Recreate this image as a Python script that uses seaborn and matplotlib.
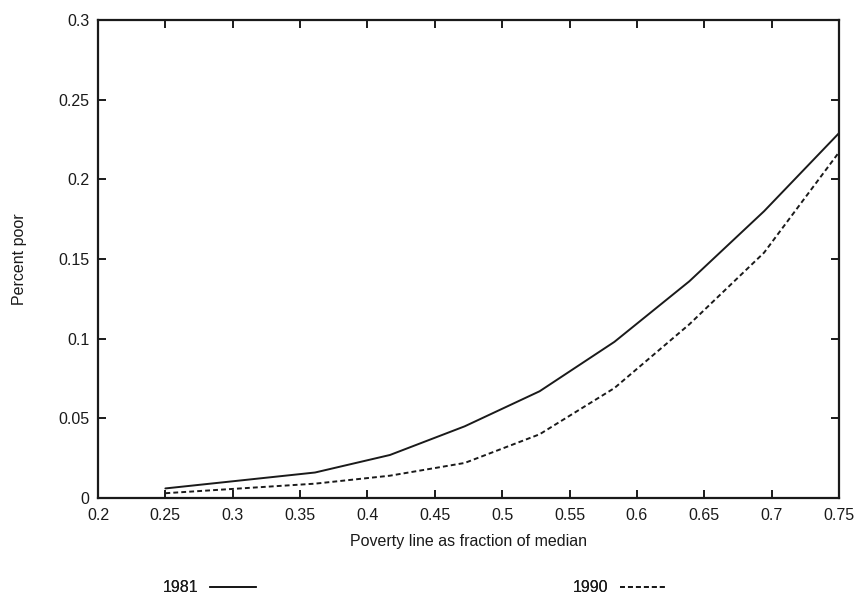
import numpy as np
import pandas as pd
import matplotlib
matplotlib.use("Agg")
import matplotlib.pyplot as plt
import seaborn as sns

# Data
poverty_line = [0.25, 0.3056, 0.3611, 0.4167, 0.4722, 0.5278, 0.5833, 0.6389, 0.6944, 0.75]
poor_1981 = [0.006, 0.011, 0.016, 0.027, 0.045, 0.067, 0.098, 0.136, 0.180, 0.229]
poor_1990 = [0.003, 0.006, 0.009, 0.014, 0.022, 0.040, 0.069, 0.109, 0.154, 0.217]
years = ["1981", "1990"]
x_ticks = [0.2, 0.25, 0.3, 0.35, 0.4, 0.45, 0.5, 0.55, 0.6, 0.65, 0.7, 0.75]
y_ticks = [0, 0.05, 0.1, 0.15, 0.2, 0.25, 0.3]
x_tick_labels = ["0.2", "0.25", "0.3", "0.35", "0.4", "0.45", "0.5", "0.55", "0.6", "0.65", "0.7", "0.75"]
y_tick_labels = ["0", "0.05", "0.1", "0.15", "0.2", "0.25", "0.3"]

df = pd.DataFrame({
    "x": poverty_line * 2,
    "y": poor_1981 + poor_1990,
    "year": [years[0]] * len(poverty_line) + [years[1]] * len(poverty_line),
})

sns.set_theme(style="ticks")
plt.rcParams["font.family"] = ["Liberation Sans", "DejaVu Sans"]

fig = plt.figure(figsize=(8.57, 5.97), dpi=100)
ax = fig.add_axes([98 / 857, 1 - 498 / 597, (839 - 98) / 857, (498 - 20) / 597])

sns.lineplot(data=df, x="x", y="y", hue="year", style="year",
             palette={"1981": "#1a1a1a", "1990": "#1a1a1a"},
             dashes={"1981": "", "1990": (2.5, 1.6)},
             linewidth=1.4, legend=False, ax=ax)

ax.set_xlim(0.2, 0.75)
ax.set_ylim(0, 0.3)
ax.set_xticks(x_ticks)
ax.set_xticklabels(x_tick_labels)
ax.set_yticks(y_ticks)
ax.set_yticklabels(y_tick_labels)
ax.tick_params(direction="in", length=6, width=1.4, top=True, right=True,
               labelsize=11.5, colors="#1a1a1a", pad=6)
ax.tick_params(axis="x", pad=7)
for s in ax.spines.values():
    s.set_linewidth(1.6)
    s.set_color("#1a1a1a")
    s.set_visible(True)

ax.set_xlabel("Poverty line as fraction of median", fontsize=11.5, color="#1a1a1a", labelpad=8)
ax.set_ylabel("Percent poor", fontsize=11.5, color="#1a1a1a")
ax.yaxis.set_label_coords(-71 / 741, 0.5)

lines = ax.get_lines()
for i, (xpos, yr) in enumerate(zip([163, 573], years)):
    leg = fig.legend([lines[i]], [yr], loc="center left",
                     bbox_to_anchor=(xpos / 857, 1 - 588 / 597),
                     frameon=False, markerfirst=False, handlelength=2.9,
                     handletextpad=0.7, borderpad=0, borderaxespad=0,
                     fontsize=11.5)
    for t in leg.get_texts():
        t.set_color("#1a1a1a")
    fig.add_artist(leg)

fig.savefig("out.png", dpi=100, facecolor="white")
